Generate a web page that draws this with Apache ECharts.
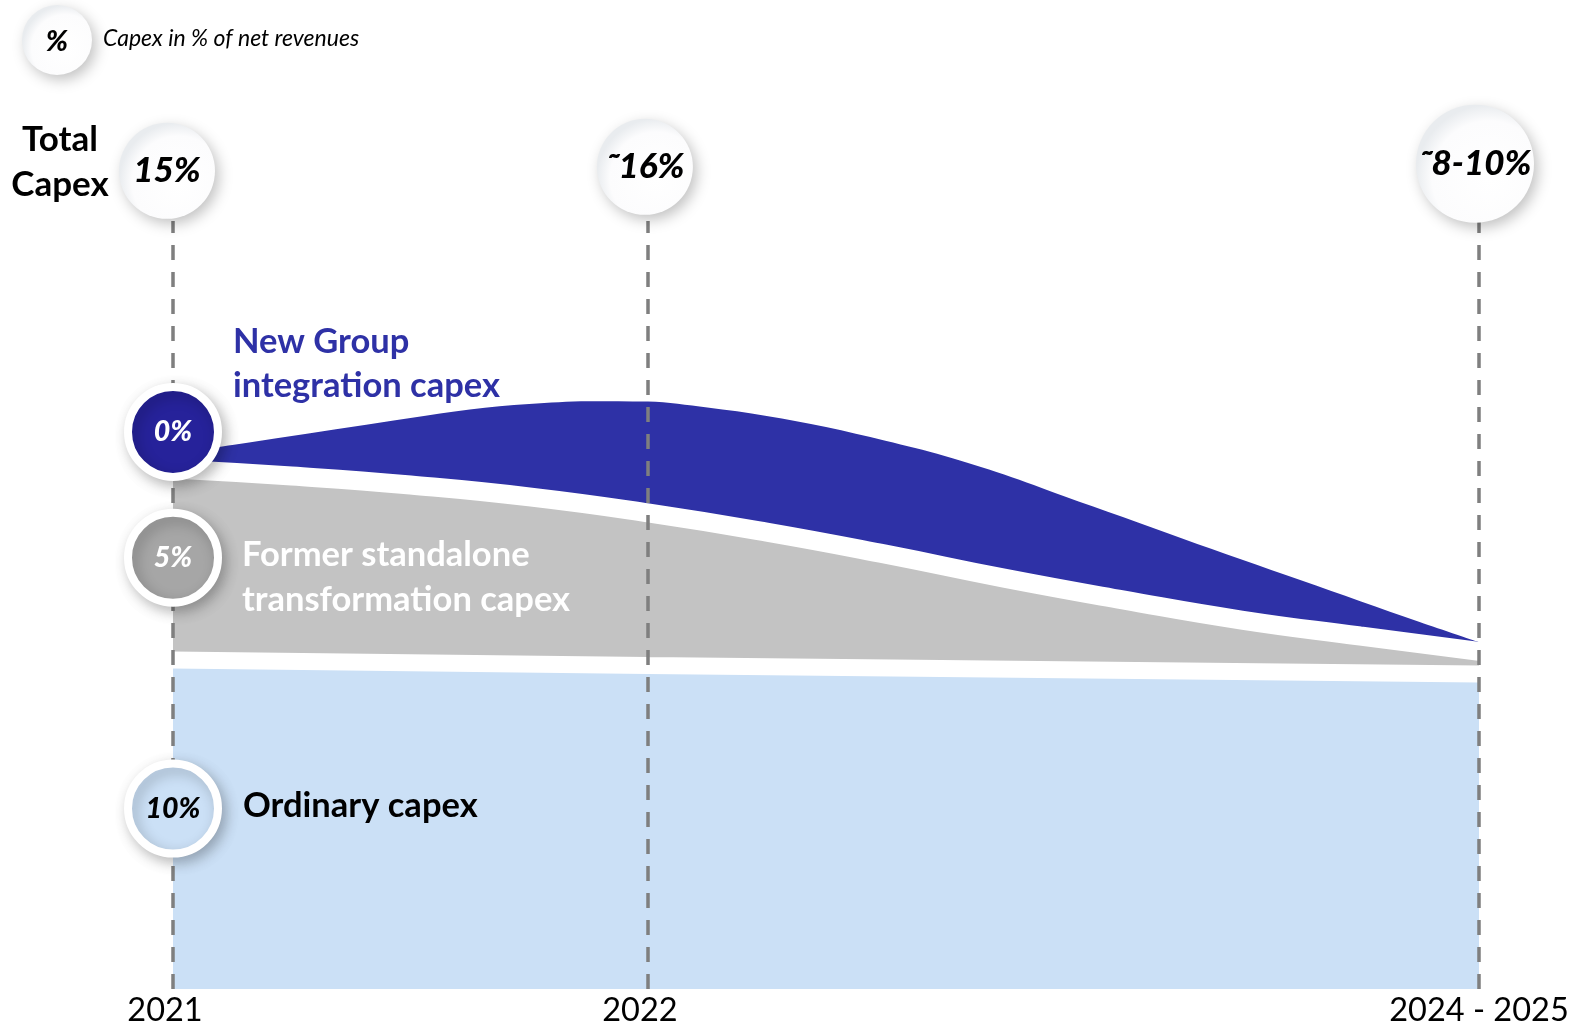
<!DOCTYPE html>
<html>
<head>
<meta charset="utf-8">
<script src="https://cdn.jsdelivr.net/npm/echarts@6/dist/echarts.min.js"></script>
<style>
  html, body { margin: 0; padding: 0; background: #ffffff; }
  #chart { width: 1575px; height: 1030px; }
</style>
</head>
<body>
<div id="chart"></div>
<script>
// Timeline positions (quarters counted from the start of 2021) and the milestone labels
const tickPositions = [0, 4, 11];
const tickLabels = ['2021', '2022', '2024 - 2025'];

// Upper edge of each capex layer along the timeline (chart units)
const integrationX = [0, 0.5, 1, 1.5, 2, 2.5, 3, 3.5, 4, 4.5, 5, 5.5, 6, 6.5, 7, 7.5, 8, 8.5, 9, 9.5, 10, 10.5, 11];
const integrationTop = [16.73, 17.0, 17.28, 17.56, 17.84, 18.11, 18.28, 18.37, 18.36, 18.17, 17.91, 17.56,
                        17.13, 16.66, 16.08, 15.41, 14.75, 14.08, 13.42, 12.77, 12.12, 11.47, 10.84];

const transformationX = [0, 1, 2, 3, 4, 5, 6, 7, 8, 9, 10, 11];
const transformationTop = [16.25, 16.03, 15.75, 15.38, 14.88, 14.28, 13.59, 12.84, 12.16, 11.53, 11.03, 10.55];

const ordinaryX = [0, 4, 11];
const ordinaryTop = [10.28, 10.11, 9.84];

// Total capex (% of net revenues) at each milestone
const totalLabels = ['15%', '\u02DC16%', '\u02DC8-10%'];

// Layers at 2021: name and share of net revenues
const layerNames = ['New Group\nintegration capex', 'Former standalone\ntransformation capex', 'Ordinary capex'];
const layerShares = ['0%', '5%', '10%'];

const FONT = 'Lato, "Open Sans", sans-serif';
const BLUE = '#2E31A6';
const GREY = '#C3C3C3';
const LIGHT = '#CBE0F6';

const pairs = (xs, ys) => xs.map((x, i) => [x, ys[i]]);

const bubbleFill = () => new echarts.graphic.RadialGradient(0.62, 0.62, 0.62, [
  { offset: 0, color: '#ffffff' },
  { offset: 0.78, color: '#fcfcfd' },
  { offset: 1, color: '#e9ecef' }
]);
const bubbleShadow = {
  shadowBlur: 14,
  shadowColor: 'rgba(0,0,0,0.24)',
  shadowOffsetX: 4,
  shadowOffsetY: 5
};

// Annotation bubble placement (chart units / pixels)
const TOTAL_ROW = 25.63;
const TOTAL_SIZES = [96, 96, 118];
const TOTAL_OFFSETS = [[-6, 2], [-3, -2], [-4, -5]];
const LAYER_ROWS = [17.41, 13.48, 5.64];
const LAYER_FILLS = ['#26229A', '#A6A6A6', LIGHT];
const LAYER_TEXT = ['#ffffff', '#ffffff', '#000000'];

const chart = echarts.init(document.getElementById('chart'), null, { renderer: 'canvas' });

const option = {
  animation: false,
  backgroundColor: '#ffffff',
  grid: { left: 173, right: 96, top: 221, bottom: 41, containLabel: false },
  xAxis: {
    type: 'value',
    min: 0,
    max: 11,
    interval: 1,
    axisLine: { show: false },
    axisTick: { show: false },
    splitLine: { show: false },
    axisLabel: {
      margin: 5,
      fontFamily: FONT,
      fontSize: 32.5,
      color: '#000',
      formatter: (v) => {
        const i = tickPositions.indexOf(v);
        if (i < 0) return '';
        return i < 2 ? '{s|' + tickLabels[i] + '}' : tickLabels[i];
      },
      rich: { s: { fontFamily: FONT, fontSize: 32.5, color: '#000', padding: [0, 16, 0, 0] } }
    }
  },
  yAxis: { type: 'value', min: 0, max: 24, show: false, splitLine: { show: false } },
  series: [
    {
      name: 'New Group integration capex',
      type: 'line',
      z: 2,
      smooth: 0.35,
      symbol: 'none',
      data: pairs(integrationX, integrationTop),
      lineStyle: { width: 0 },
      areaStyle: { color: BLUE, opacity: 1 },
      silent: true
    },
    {
      name: 'Former standalone transformation capex',
      type: 'line',
      z: 3,
      smooth: 0.5,
      symbol: 'none',
      data: pairs(transformationX, transformationTop),
      lineStyle: { color: '#ffffff', width: 19 },
      areaStyle: { color: GREY, opacity: 1 },
      silent: true
    },
    {
      name: 'Ordinary capex',
      type: 'line',
      z: 4,
      smooth: 0.5,
      symbol: 'none',
      data: pairs(ordinaryX, ordinaryTop),
      lineStyle: { color: '#ffffff', width: 17 },
      areaStyle: { color: LIGHT, opacity: 1 },
      silent: true,
      markLine: {
        silent: true,
        symbol: 'none',
        label: { show: false },
        lineStyle: { color: '#7f7f7f', type: [15, 12], width: 3.5 },
        data: tickPositions.map((x) => ({ xAxis: x }))
      }
    },
    {
      name: 'Total capex',
      type: 'scatter',
      z: 10,
      clip: false,
      silent: true,
      data: tickPositions.map((x, i) => ({
        value: [x, TOTAL_ROW],
        symbolSize: TOTAL_SIZES[i],
        symbolOffset: TOTAL_OFFSETS[i]
      })),
      itemStyle: Object.assign({ color: bubbleFill(), opacity: 1 }, bubbleShadow),
      label: {
        show: true,
        position: 'inside',
        formatter: (p) => totalLabels[p.dataIndex],
        fontFamily: FONT,
        fontWeight: 900,
        fontStyle: 'italic',
        fontSize: 35,
        color: '#000'
      }
    },
    {
      name: 'Layers 2021',
      type: 'scatter',
      z: 10,
      clip: false,
      silent: true,
      symbolSize: 90,
      data: LAYER_ROWS.map((y, i) => ({
        value: [tickPositions[0], y],
        itemStyle: { color: LAYER_FILLS[i] },
        label: { color: LAYER_TEXT[i] }
      })),
      itemStyle: Object.assign({ borderColor: '#ffffff', borderWidth: 8, opacity: 1 }, bubbleShadow),
      label: {
        show: true,
        position: 'inside',
        formatter: (p) => layerShares[p.dataIndex],
        fontFamily: FONT,
        fontWeight: 900,
        fontStyle: 'italic',
        fontSize: 28.5
      }
    }
  ],
  graphic: [
    {
      type: 'circle',
      shape: { cx: 57, cy: 40, r: 35 },
      style: Object.assign({ fill: bubbleFill() }, bubbleShadow),
      z: 10
    },
    {
      type: 'text',
      x: 57, y: 42, z: 11,
      style: { text: '%', font: 'italic 900 29px ' + FONT, fill: '#000', align: 'center', verticalAlign: 'middle' }
    },
    {
      type: 'text',
      x: 103, y: 39, z: 11,
      style: { text: 'Capex in % of net revenues', font: 'italic 23px ' + FONT, fill: '#000', align: 'left', verticalAlign: 'middle' }
    },
    {
      type: 'text',
      x: 60, y: 162, z: 11,
      style: { text: 'Total\nCapex', font: 'bold 35px ' + FONT, lineHeight: 45, fill: '#000', align: 'center', verticalAlign: 'middle' }
    },
    {
      type: 'text',
      x: 233, y: 364, z: 11,
      style: { text: layerNames[0], font: 'bold 34.5px ' + FONT, lineHeight: 44, fill: BLUE, align: 'left', verticalAlign: 'middle' }
    },
    {
      type: 'text',
      x: 242, y: 577, z: 11,
      style: { text: layerNames[1], font: 'bold 34.5px ' + FONT, lineHeight: 45, fill: '#ffffff', align: 'left', verticalAlign: 'middle' }
    },
    {
      type: 'text',
      x: 243, y: 806, z: 11,
      style: { text: layerNames[2], font: 'bold 34.5px ' + FONT, fill: '#000', align: 'left', verticalAlign: 'middle' }
    }
  ]
};

chart.setOption(option);
</script>
</body>
</html>
